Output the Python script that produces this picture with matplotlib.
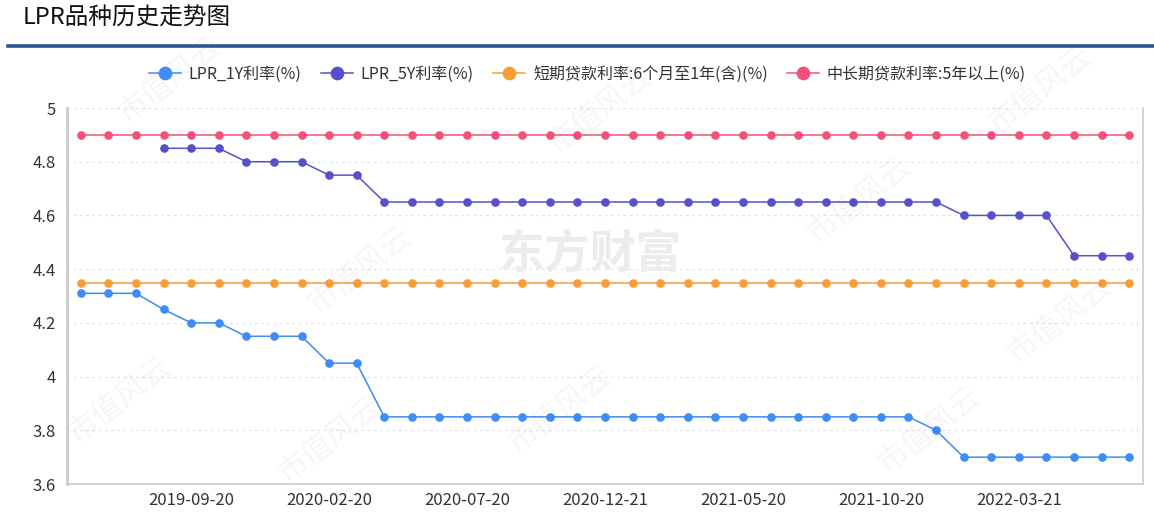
import matplotlib.pyplot as plt
import numpy as np

plt.rcParams['font.family'] = ['Noto Sans CJK SC', 'DejaVu Sans']

# data
dates = ["2019-05-20", "2019-06-20", "2019-07-22", "2019-08-20", "2019-09-20",
         "2019-10-21", "2019-11-20", "2019-12-20", "2020-01-20", "2020-02-20",
         "2020-03-20", "2020-04-20", "2020-05-20", "2020-06-22", "2020-07-20",
         "2020-08-20", "2020-09-21", "2020-10-20", "2020-11-20", "2020-12-21",
         "2021-01-20", "2021-02-20", "2021-03-22", "2021-04-20", "2021-05-20",
         "2021-06-21", "2021-07-20", "2021-08-20", "2021-09-22", "2021-10-20",
         "2021-11-22", "2021-12-20", "2022-01-20", "2022-02-21", "2022-03-21",
         "2022-04-20", "2022-05-20", "2022-06-20", "2022-07-20"]

lpr_1y = [4.31, 4.31, 4.31, 4.25, 4.20, 4.20, 4.15, 4.15, 4.15, 4.05,
          4.05, 3.85, 3.85, 3.85, 3.85, 3.85, 3.85, 3.85, 3.85, 3.85,
          3.85, 3.85, 3.85, 3.85, 3.85, 3.85, 3.85, 3.85, 3.85, 3.85,
          3.85, 3.80, 3.70, 3.70, 3.70, 3.70, 3.70, 3.70, 3.70]

lpr_5y = [None, None, None, 4.85, 4.85, 4.85, 4.80, 4.80, 4.80, 4.75,
          4.75, 4.65, 4.65, 4.65, 4.65, 4.65, 4.65, 4.65, 4.65, 4.65,
          4.65, 4.65, 4.65, 4.65, 4.65, 4.65, 4.65, 4.65, 4.65, 4.65,
          4.65, 4.65, 4.60, 4.60, 4.60, 4.60, 4.45, 4.45, 4.45]

short_rate = [4.35] * len(dates)
long_rate = [4.90] * len(dates)

names = ["LPR_1Y利率(%)", "LPR_5Y利率(%)",
         "短期贷款利率:6个月至1年(含)(%)", "中长期贷款利率:5年以上(%)"]
colors = ["#3d8cf7", "#5650cc", "#f99d35", "#f5507a"]

fig = plt.figure(figsize=(11.54, 5.12), dpi=100)
ax = fig.add_axes([67 / 1154, 1 - 484 / 512, 1076 / 1154, 376 / 512])

x = np.arange(len(dates))
series = [lpr_1y, lpr_5y, short_rate, long_rate]
handles = []
for vals, c, n in zip(series, colors, names):
    v = np.array([np.nan if a is None else a for a in vals], dtype=float)
    ln, = ax.plot(x, v, color=c, lw=1.1, marker='o', markersize=5.2,
                  label=n, zorder=3)
    handles.append(ln)

ax.set_xlim(-0.5, len(dates) - 0.5)
ax.set_ylim(3.6, 5.0)
yt = [3.6, 3.8, 4.0, 4.2, 4.4, 4.6, 4.8, 5.0]
ax.set_yticks(yt)
ax.set_yticklabels(["3.6", "3.8", "4", "4.2", "4.4", "4.6", "4.8", "5"])
tick_idx = list(range(4, len(dates), 5))
ax.set_xticks(tick_idx)
ax.set_xticklabels([dates[i] for i in tick_idx])
ax.tick_params(axis='both', length=0, labelsize=12, colors='#333333')
ax.tick_params(axis='x', pad=6)
ax.tick_params(axis='y', pad=8)

ax.grid(axis='y', color='#d6e4f3', linestyle=(0, (2, 3)), lw=0.9)
ax.set_axisbelow(True)
ax.spines['top'].set_visible(False)
for s in ['left', 'right', 'bottom']:
    ax.spines[s].set_color('#cccccc')
    ax.spines[s].set_linewidth(1.2)
ax.spines['left'].set_linewidth(2)
ax.patch.set_alpha(0)

# legend
leg = fig.legend(handles=handles, loc='center', bbox_to_anchor=(0.509, 1 - 74 / 512),
                 ncol=4, frameon=False, fontsize=11.5, handlelength=2.0,
                 handletextpad=0.5, columnspacing=1.2, markerscale=1.7,
                 labelcolor='#333333')

# title and underline
fig.text(23 / 1154, 1 - 18 / 512, "LPR品种历史走势图", fontsize=17,
         color='#111111', va='center', ha='left')
fig.add_artist(plt.Line2D([8 / 1154, 1], [1 - 46 / 512, 1 - 46 / 512],
                          color='#2d5596', lw=2.6))

# watermarks
fig.text(590 / 1154, 1 - 255 / 512, "东方财富", fontsize=33, fontweight='bold',
         color='#ececec', ha='center', va='center', zorder=0)
marks = [(170, 80), (600, 110), (1040, 90), (360, 270), (860, 200),
         (120, 400), (560, 410), (1060, 320), (930, 430), (330, 440)]
for mx, my in marks:
    fig.text(mx / 1154, 1 - my / 512, "市值风云", fontsize=22, rotation=38,
             fontweight='light', color='#000000', alpha=0.04,
             ha='center', va='center', zorder=0)

fig.savefig("out.png", dpi=100)
